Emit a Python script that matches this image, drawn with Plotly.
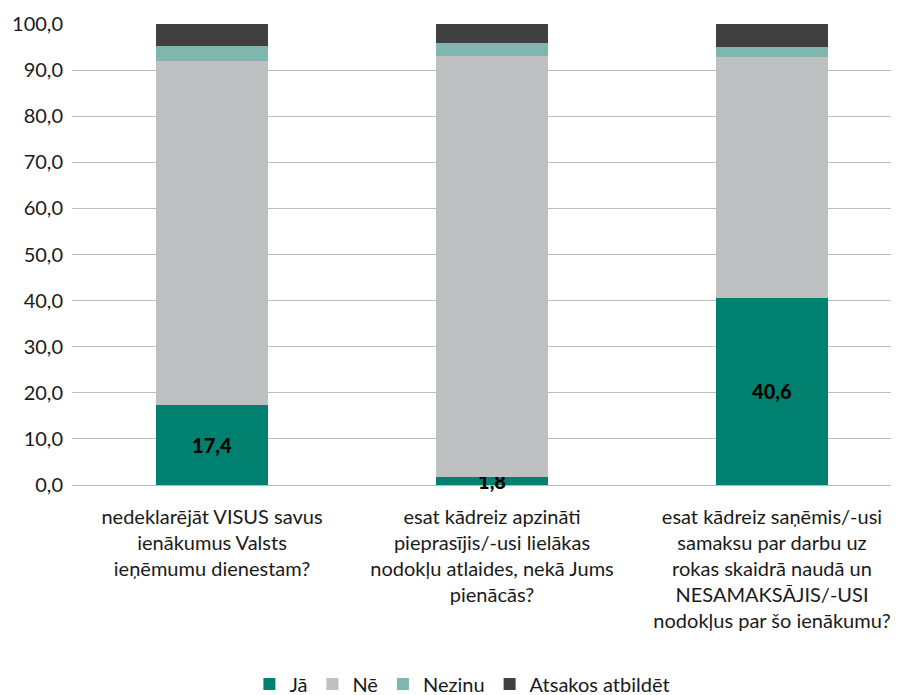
import plotly.graph_objects as go

categories = [
    "nedeklarējāt VISUS savus<br>ienākumus Valsts<br>ieņēmumu dienestam?",
    "esat kādreiz apzināti<br>pieprasījis/-usi lielākas<br>nodokļu atlaides, nekā Jums<br>pienācās?",
    "esat kādreiz saņēmis/-usi<br>samaksu par darbu uz<br>rokas skaidrā naudā un<br>NESAMAKSĀJIS/-USI<br>nodokļus par šo ienākumu?",
]
ja = [17.4, 1.8, 40.6]
ne = [74.6, 91.3, 52.2]
nezinu = [3.2, 2.7, 2.2]
atsakos = [4.8, 4.2, 5.0]

series = [
    ("Jā", ja, "#00806F"),
    ("Nē", ne, "#BFC0C2"),
    ("Nezinu", nezinu, "#7FB6AE"),
    ("Atsakos atbildēt", atsakos, "#404041"),
]

font = "Source Sans Pro, Lato, Noto Sans, sans-serif"

fig = go.Figure()
for name, vals, color in series:
    fig.add_trace(go.Bar(
        x=categories, y=vals, name=name,
        marker=dict(color=color, line=dict(width=0)),
        width=0.4,
        texttemplate="%{y:.1f}" if name == "Jā" else None,
        textposition="inside" if name == "Jā" else "none",
        insidetextanchor="middle",
        cliponaxis=False,
        textfont=dict(family=font, size=20, color="black", weight=900),
    ))

# the page body has an 8px margin, so the figure is sized to fit inside it
fig.update_layout(
    barmode="stack",
    width=891, height=687,
    margin=dict(l=64, r=0, t=16, b=210),
    plot_bgcolor="white", paper_bgcolor="white",
    separators=",.",
    font=dict(family=font, size=20, color="#1a1a1a"),
    uniformtext=dict(minsize=20, mode="show"),
    showlegend=True,
    legend=dict(
        orientation="h", xref="container", yref="container",
        x=0.51, xanchor="center", y=0.016, yanchor="middle",
        traceorder="normal", font=dict(size=20),
    ),
    xaxis=dict(range=[-0.5, 2.4536], showgrid=False, showline=False,
               ticks="", ticklabelstandoff=18, tickfont=dict(size=20)),
    yaxis=dict(range=[0, 100], dtick=10, tickformat=".1f",
               showgrid=True, gridcolor="#BEBEBE", gridwidth=1.3,
               zeroline=True, zerolinecolor="#BEBEBE", zerolinewidth=1.3,
               showline=False, ticks="", ticklabelstandoff=8,
               tickfont=dict(size=20)),
)

fig.write_html("out.html")
